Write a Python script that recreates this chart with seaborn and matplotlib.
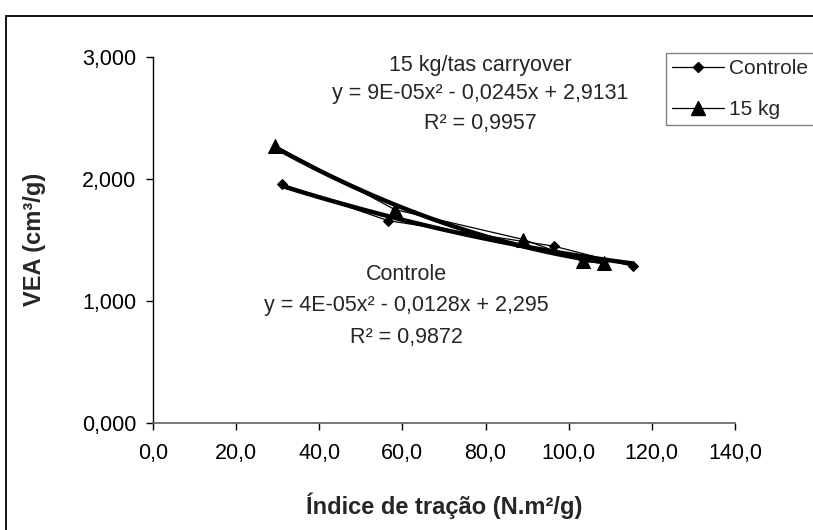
import numpy as np
import pandas as pd
import matplotlib
matplotlib.use("Agg")
import matplotlib.pyplot as plt
from matplotlib.ticker import FuncFormatter
from matplotlib.patches import Rectangle
from matplotlib.lines import Line2D
import seaborn as sns

# data
controle_x = [31.0, 56.5, 96.5, 115.4]
controle_y = [1.955, 1.655, 1.445, 1.28]

kg15_x = [29.3, 58.2, 89.1, 103.5, 108.5]
kg15_y = [2.27, 1.745, 1.50, 1.32, 1.305]

x_ticks = [0, 20, 40, 60, 80, 100, 120, 140]
y_ticks = [0, 1, 2, 3]

eq_15 = ["15 kg/tas carryover", "y = 9E-05x² - 0,0245x + 2,9131", "R² = 0,9957"]
eq_ctrl = ["Controle", "y = 4E-05x² - 0,0128x + 2,295", "R² = 0,9872"]

df = pd.concat([
    pd.DataFrame({"x": controle_x, "y": controle_y, "serie": "Controle"}),
    pd.DataFrame({"x": kg15_x, "y": kg15_y, "serie": "15 kg"}),
])

sns.set_style("ticks")
plt.rcParams["font.family"] = ["Liberation Sans", "DejaVu Sans"]

FS = 15.5

fig = plt.figure(figsize=(8.13, 5.30), dpi=100)
ax = fig.add_axes([153 / 813, 1 - 422.5 / 530, (735 - 153) / 813, (422.5 - 56.5) / 530])

# outer chart frame (cut at right and bottom like the original)
fig.add_artist(Rectangle((6 / 813, -0.1), 1.2, 1 - 16 / 530 + 0.1,
                         transform=fig.transFigure, fill=False,
                         edgecolor="black", linewidth=1.3))

# polynomial trendlines (order 2), thick
for s in ["Controle", "15 kg"]:
    sub = df[df["serie"] == s]
    sns.regplot(data=sub, x="x", y="y", order=2, ci=None, scatter=False,
                ax=ax, color="black", line_kws={"linewidth": 3.2})

# data series, thin lines with markers
sns.lineplot(data=df[df["serie"] == "Controle"], x="x", y="y", ax=ax,
             color="black", linewidth=0.9, marker="D", markersize=5.5,
             markeredgecolor="black", legend=False)
sns.lineplot(data=df[df["serie"] == "15 kg"], x="x", y="y", ax=ax,
             color="black", linewidth=0.9, marker="^", markersize=10,
             markeredgecolor="black", legend=False)

ax.set_xlim(0, 140)
ax.set_ylim(0, 3)
ax.set_xticks(x_ticks)
ax.set_yticks(y_ticks)
ax.xaxis.set_major_formatter(FuncFormatter(lambda v, p: f"{v:.1f}".replace(".", ",")))
ax.yaxis.set_major_formatter(FuncFormatter(lambda v, p: f"{v:.3f}".replace(".", ",")))
ax.tick_params(axis="both", labelsize=FS, length=5, width=1, colors="black")
ax.tick_params(axis="x", pad=10)
ax.tick_params(axis="y", pad=7)
for side in ["top", "right"]:
    ax.spines[side].set_visible(False)
ax.spines["left"].set_color("black")
ax.spines["bottom"].set_color("#606060")
ax.spines["left"].set_linewidth(1)
ax.spines["bottom"].set_linewidth(1.2)

ax.set_xlabel("Índice de tração (N.m²/g)", fontsize=17, fontweight="bold", labelpad=20)
ax.set_ylabel("VEA (cm³/g)", fontsize=17, fontweight="bold", labelpad=26)

# trendline labels
for i, t in enumerate(eq_15):
    fig.text(480 / 813, 1 - (65 + i * 29) / 530, t, ha="center", va="center", fontsize=FS)
for i, t in enumerate(eq_ctrl):
    fig.text(406.7 / 813, 1 - (275 + i * 31) / 530, t, ha="center", va="center", fontsize=FS)

handles = [
    Line2D([], [], color="black", linewidth=0.9, marker="D", markersize=5.5),
    Line2D([], [], color="black", linewidth=0.9, marker="^", markersize=10),
]
leg = fig.legend(handles, ["Controle", "15 kg"], loc="upper left",
                 bbox_to_anchor=(665.7 / 813, 1 - 53 / 530), fontsize=15,
                 frameon=True, fancybox=False, handlelength=2.5,
                 borderpad=0.3, labelspacing=1.05, handletextpad=0.25,
                 borderaxespad=0)
leg.get_frame().set_edgecolor("#606060")
leg.get_frame().set_linewidth(1.0)

fig.savefig("out.png", dpi=100)
